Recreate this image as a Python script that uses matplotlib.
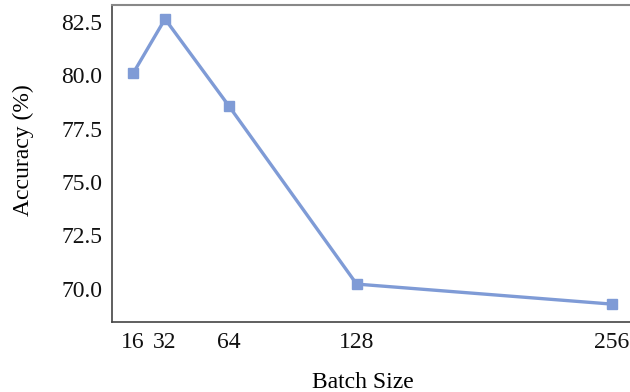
import matplotlib
matplotlib.use("Agg")
import matplotlib.pyplot as plt

batch_sizes = [16, 32, 64, 128, 256]
accuracy = [80.1, 82.65, 78.57, 70.22, 69.28]
yticks = [70.0, 72.5, 75.0, 77.5, 80.0, 82.5]

plt.rcParams['font.family'] = ['Liberation Serif', 'DejaVu Serif']

fig = plt.figure(figsize=(6.3, 3.92), dpi=100)
ax = fig.add_axes([0.178, 0.179, 0.83, 0.808])
ax.plot(batch_sizes, accuracy, color='#7f9bd6', linewidth=2.4, marker='s', markersize=7)
ax.set_xlim(5.5, 267.5)
ax.set_ylim(68.45, 83.3)
ax.set_xticks(batch_sizes)
ax.set_xticklabels([str(b) for b in batch_sizes])
ax.set_yticks(yticks)
ax.set_yticklabels([f"{v:.1f}" for v in yticks])
ax.tick_params(length=0, labelsize=17, pad=7, colors='#111111')
ax.set_xlabel('Batch Size', fontsize=17, labelpad=14)
ax.set_ylabel('Accuracy (%)', fontsize=17, labelpad=20)
ax.xaxis.label.set_x(0.48)
ax.yaxis.label.set_y(0.543)
for s in ['left', 'bottom']:
    ax.spines[s].set_color('#444444')
    ax.spines[s].set_linewidth(1.2)
ax.spines['top'].set_color('#888888')
ax.spines['top'].set_linewidth(1.5)
ax.spines['right'].set_visible(False)
fig.savefig('out.png', dpi=100)
